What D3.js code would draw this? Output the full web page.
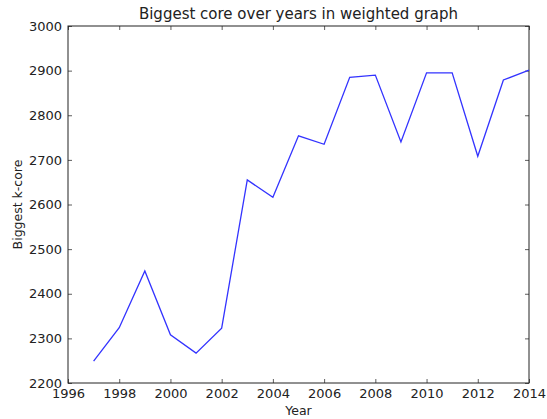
<!DOCTYPE html>
<html>
<head>
<meta charset="utf-8">
<script src="https://cdn.jsdelivr.net/npm/d3@7"></script>
<style>
  body { margin: 0; background: #fff; }
  text { font-family: "DejaVu Sans", sans-serif; fill: #222; }
</style>
</head>
<body>
<svg id="chart"></svg>
<script>
const width = 547
const height = 419

// data
const years = [1997, 1998, 1999, 2000, 2001, 2002, 2003, 2004, 2005, 2006, 2007, 2008, 2009, 2010, 2011, 2012, 2013, 2014]
const coreSize = [2249, 2324, 2451, 2308, 2267, 2323, 2655, 2616, 2754, 2735, 2885, 2890, 2740, 2895, 2895, 2708, 2879, 2901]
const xTicks = [1996, 1998, 2000, 2002, 2004, 2006, 2008, 2010, 2012, 2014]
const yTicks = [2200, 2300, 2400, 2500, 2600, 2700, 2800, 2900, 3000]

const margin = {top: 26, right: 18, bottom: 36, left: 68}

const svg = d3.select('#chart')
    .attr('width', width)
    .attr('height', height)

const x = d3.scaleLinear()
    .domain([1996, 2014])
    .range([margin.left, width - margin.right])

const y = d3.scaleLinear()
    .domain([2200, 3000])
    .range([height - margin.bottom, margin.top])

// axes, ticks point inward on all four sides
const tickLen = 4
svg.append('g')
    .attr('transform', `translate(0, ${height - margin.bottom})`)
    .call(d3.axisBottom(x).tickValues(xTicks).tickFormat(d3.format('d')).tickSizeInner(-tickLen).tickSizeOuter(0).tickPadding(6))
svg.append('g')
    .attr('transform', `translate(0, ${margin.top})`)
    .call(d3.axisTop(x).tickValues(xTicks).tickFormat('').tickSizeInner(-tickLen).tickSizeOuter(0))
svg.append('g')
    .attr('transform', `translate(${margin.left}, 0)`)
    .call(d3.axisLeft(y).tickValues(yTicks).tickFormat(d3.format('d')).tickSizeInner(-tickLen).tickSizeOuter(0).tickPadding(6))
svg.append('g')
    .attr('transform', `translate(${width - margin.right}, 0)`)
    .call(d3.axisRight(y).tickValues(yTicks).tickFormat('').tickSizeInner(-tickLen).tickSizeOuter(0))

svg.selectAll('.domain').remove()
svg.selectAll('.tick line').attr('stroke', '#333').attr('stroke-width', 0.8)
svg.selectAll('.tick text').style('font-size', '13px').attr('fill', '#222')

// frame
svg.append('rect')
    .attr('x', margin.left)
    .attr('y', margin.top)
    .attr('width', width - margin.left - margin.right)
    .attr('height', height - margin.top - margin.bottom)
    .attr('fill', 'none')
    .attr('stroke', '#222')
    .attr('stroke-width', 1)

const line = d3.line()
    .x((d, i) => x(years[i]))
    .y(d => y(d))

svg.append('path')
    .datum(coreSize)
    .attr('d', line)
    .attr('fill', 'none')
    .attr('stroke', '#3333ff')
    .attr('stroke-width', 1.3)

svg.append('text')
    .attr('x', (margin.left + width - margin.right) / 2)
    .attr('y', 19)
    .attr('text-anchor', 'middle')
    .style('font-size', '15px')
    .text('Biggest core over years in weighted graph')

svg.append('text')
    .attr('x', (margin.left + width - margin.right) / 2)
    .attr('y', 415)
    .attr('text-anchor', 'middle')
    .style('font-size', '12.5px')
    .text('Year')

svg.append('text')
    .attr('transform', `translate(22, ${(margin.top + height - margin.bottom) / 2}) rotate(-90)`)
    .attr('text-anchor', 'middle')
    .style('font-size', '12.5px')
    .text('Biggest k-core')
</script>
</body>
</html>
